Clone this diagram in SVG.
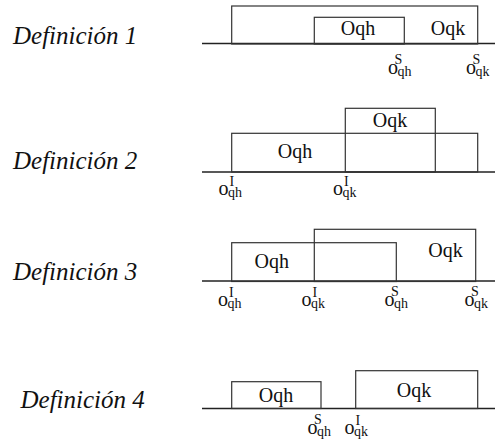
<svg xmlns="http://www.w3.org/2000/svg" width="495" height="444" viewBox="0 0 495 444">
<style>
.bg{fill:#fff}
.box{fill:none;stroke:#333;stroke-width:1.2}
.axis{stroke:#222;stroke-width:1.3}
text{font-family:'Liberation Serif','Times New Roman',serif;fill:#111}
.def{font-style:italic;font-size:25px}
.nm{font-size:20px;text-anchor:middle}
.lb{font-size:20px}
.s{font-size:14px}
</style>
<rect class="bg" width="495" height="444"/>

<g id="titles">
<text class="def" x="13" y="44">Definición 1</text>
<text class="def" x="13" y="169">Definición 2</text>
<text class="def" x="13" y="279.5">Definición 3</text>
<text class="def" x="20.5" y="408">Definición 4</text>
</g>

<g id="connectors">
<line class="axis" x1="202" y1="43.5" x2="495" y2="43.5"/>
<line class="axis" x1="202" y1="172" x2="495" y2="172"/>
<line class="axis" x1="202" y1="281" x2="495" y2="281"/>
<line class="axis" x1="202" y1="408.5" x2="495" y2="408.5"/>
</g>

<g id="def1">
<g id="d1-oqk"><rect class="box" x="231.7" y="6" width="246" height="38"/><text class="nm" x="448" y="35">Oqk</text></g>
<g id="d1-oqh"><rect class="box" x="314.3" y="17.3" width="90" height="26.7"/><text class="nm" x="358" y="35">Oqh</text></g>
<g id="d1-labels">
<text class="lb"><tspan x="388" y="74">o</tspan><tspan class="s" x="394.5" y="64">S</tspan><tspan class="s" x="397.5" y="76">qh</tspan></text>
<text class="lb"><tspan x="466" y="74">o</tspan><tspan class="s" x="472.5" y="64">S</tspan><tspan class="s" x="475.5" y="76">qk</tspan></text>
</g>
</g>

<g id="def2">
<g id="d2-oqh"><rect class="box" x="231.7" y="133.3" width="246" height="38.7"/><text class="nm" x="295" y="158">Oqh</text></g>
<g id="d2-oqk"><rect class="box" x="345.3" y="108.3" width="90" height="63.7"/><text class="nm" x="390" y="127">Oqk</text></g>
<g id="d2-labels">
<text class="lb"><tspan x="218.5" y="194.5">o</tspan><tspan class="s" x="229.5" y="185.5">I</tspan><tspan class="s" x="228" y="196.5">qh</tspan></text>
<text class="lb"><tspan x="333" y="194.5">o</tspan><tspan class="s" x="344" y="185.5">I</tspan><tspan class="s" x="342.5" y="196.5">qk</tspan></text>
</g>
</g>

<g id="def3">
<g id="d3-oqh"><rect class="box" x="231.7" y="242.7" width="164.6" height="38.8"/><text class="nm" x="271.7" y="268">Oqh</text></g>
<g id="d3-oqk"><rect class="box" x="314.3" y="229.3" width="161.4" height="52.2"/><text class="nm" x="445.5" y="257">Oqk</text></g>
<g id="d3-labels">
<text class="lb"><tspan x="218" y="306">o</tspan><tspan class="s" x="229" y="297">I</tspan><tspan class="s" x="227.5" y="308">qh</tspan></text>
<text class="lb"><tspan x="301.5" y="306">o</tspan><tspan class="s" x="312.5" y="297">I</tspan><tspan class="s" x="311" y="308">qk</tspan></text>
<text class="lb"><tspan x="384.5" y="306">o</tspan><tspan class="s" x="391" y="296">S</tspan><tspan class="s" x="394" y="308">qh</tspan></text>
<text class="lb"><tspan x="464.5" y="306">o</tspan><tspan class="s" x="471" y="296">S</tspan><tspan class="s" x="474" y="308">qk</tspan></text>
</g>
</g>

<g id="def4">
<g id="d4-oqh"><rect class="box" x="231.7" y="381.7" width="89.3" height="26.8"/><text class="nm" x="276" y="402">Oqh</text></g>
<g id="d4-oqk"><rect class="box" x="355.7" y="370.7" width="122" height="37.8"/><text class="nm" x="414" y="396.5">Oqk</text></g>
<g id="d4-labels">
<text class="lb"><tspan x="307.5" y="434">o</tspan><tspan class="s" x="314" y="424">S</tspan><tspan class="s" x="317" y="436">qh</tspan></text>
<text class="lb"><tspan x="344.5" y="434">o</tspan><tspan class="s" x="355.5" y="425">I</tspan><tspan class="s" x="354" y="436">qk</tspan></text>
</g>
</g>
</svg>
